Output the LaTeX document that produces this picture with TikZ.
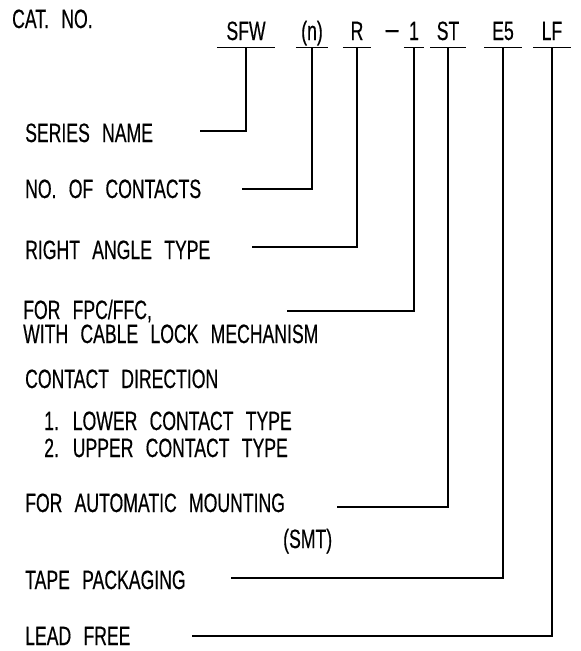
\documentclass[tikz,border=0pt]{standalone}
\usepackage{fontspec}
\setmainfont{Liberation Sans}[FakeStretch=0.665,WordSpace=2.5,FakeBold=0.4]
\begin{document}
\begin{tikzpicture}[x=1pt,y=-1pt,
	font=\fontsize{26.5pt}{30pt}\selectfont,
	lbl/.style={anchor=base west,inner sep=0pt,text height=19pt,text depth=2pt},
	code/.style={anchor=base,inner sep=0pt,text depth=7pt},
	lead/.style={line width=1.4pt}]
	
	\useasboundingbox (0,0) rectangle (581,651);
	
	\node[lbl] (cat) at (12,28) {CAT.\ NO.};
	
	% catalogue number, each part underlined
	\foreach \nm/\x/\w/\txt in {sfw/246/58/SFW, num/312/32/(n), ra/357/28/R, one/414/20/1, st/448/35/ST, e5/503/37/E5, lf/552/37/LF}
		\node[code,minimum width=\w] (\nm) at (\x,40) {\txt};
	\node[code] (dash) at (392,40) {\scalebox{1.5}[1]{−}};
	\foreach \nm in {sfw,num,ra,one,st,e5,lf}
		\draw[lead] (\nm.south west) -- (\nm.south east);
	
	% meanings
	\node[lbl] (series) at (25,142) {SERIES NAME};
	\node[lbl] (contacts) at (25,198) {NO. OF CONTACTS};
	\node[lbl] (angle) at (25,259) {RIGHT ANGLE TYPE};
	\node[lbl] (fpc) at (23,319) {FOR FPC/FFC,};
	\node[lbl] (lock) at (23,343) {WITH CABLE LOCK MECHANISM};
	\node[lbl] (dir) at (25,388) {CONTACT DIRECTION};
	\node[lbl] (lower) at (44,430) {1. LOWER CONTACT TYPE};
	\node[lbl] (upper) at (44,457) {2. UPPER CONTACT TYPE};
	\node[lbl] (smt) at (25,512) {FOR AUTOMATIC MOUNTING};
	\node[lbl] (smtb) at (283,548) {(SMT)};
	\node[lbl] (tape) at (25,589) {TAPE PACKAGING};
	\node[lbl] (free) at (25,645) {LEAD FREE};
	
	% leader lines
	\foreach \nm/\x/\y/\to in {p-series/200/131/sfw, p-contacts/242/189/num, p-angle/252/247/ra, p-fpc/287/311/one, p-smt/337/507/st, p-tape/231/578/e5, p-free/192/636/lf} {
		\coordinate (\nm) at (\x,\y);
		\draw[lead] (\nm) -| (\to.south);
	}
	
\end{tikzpicture}
\end{document}
